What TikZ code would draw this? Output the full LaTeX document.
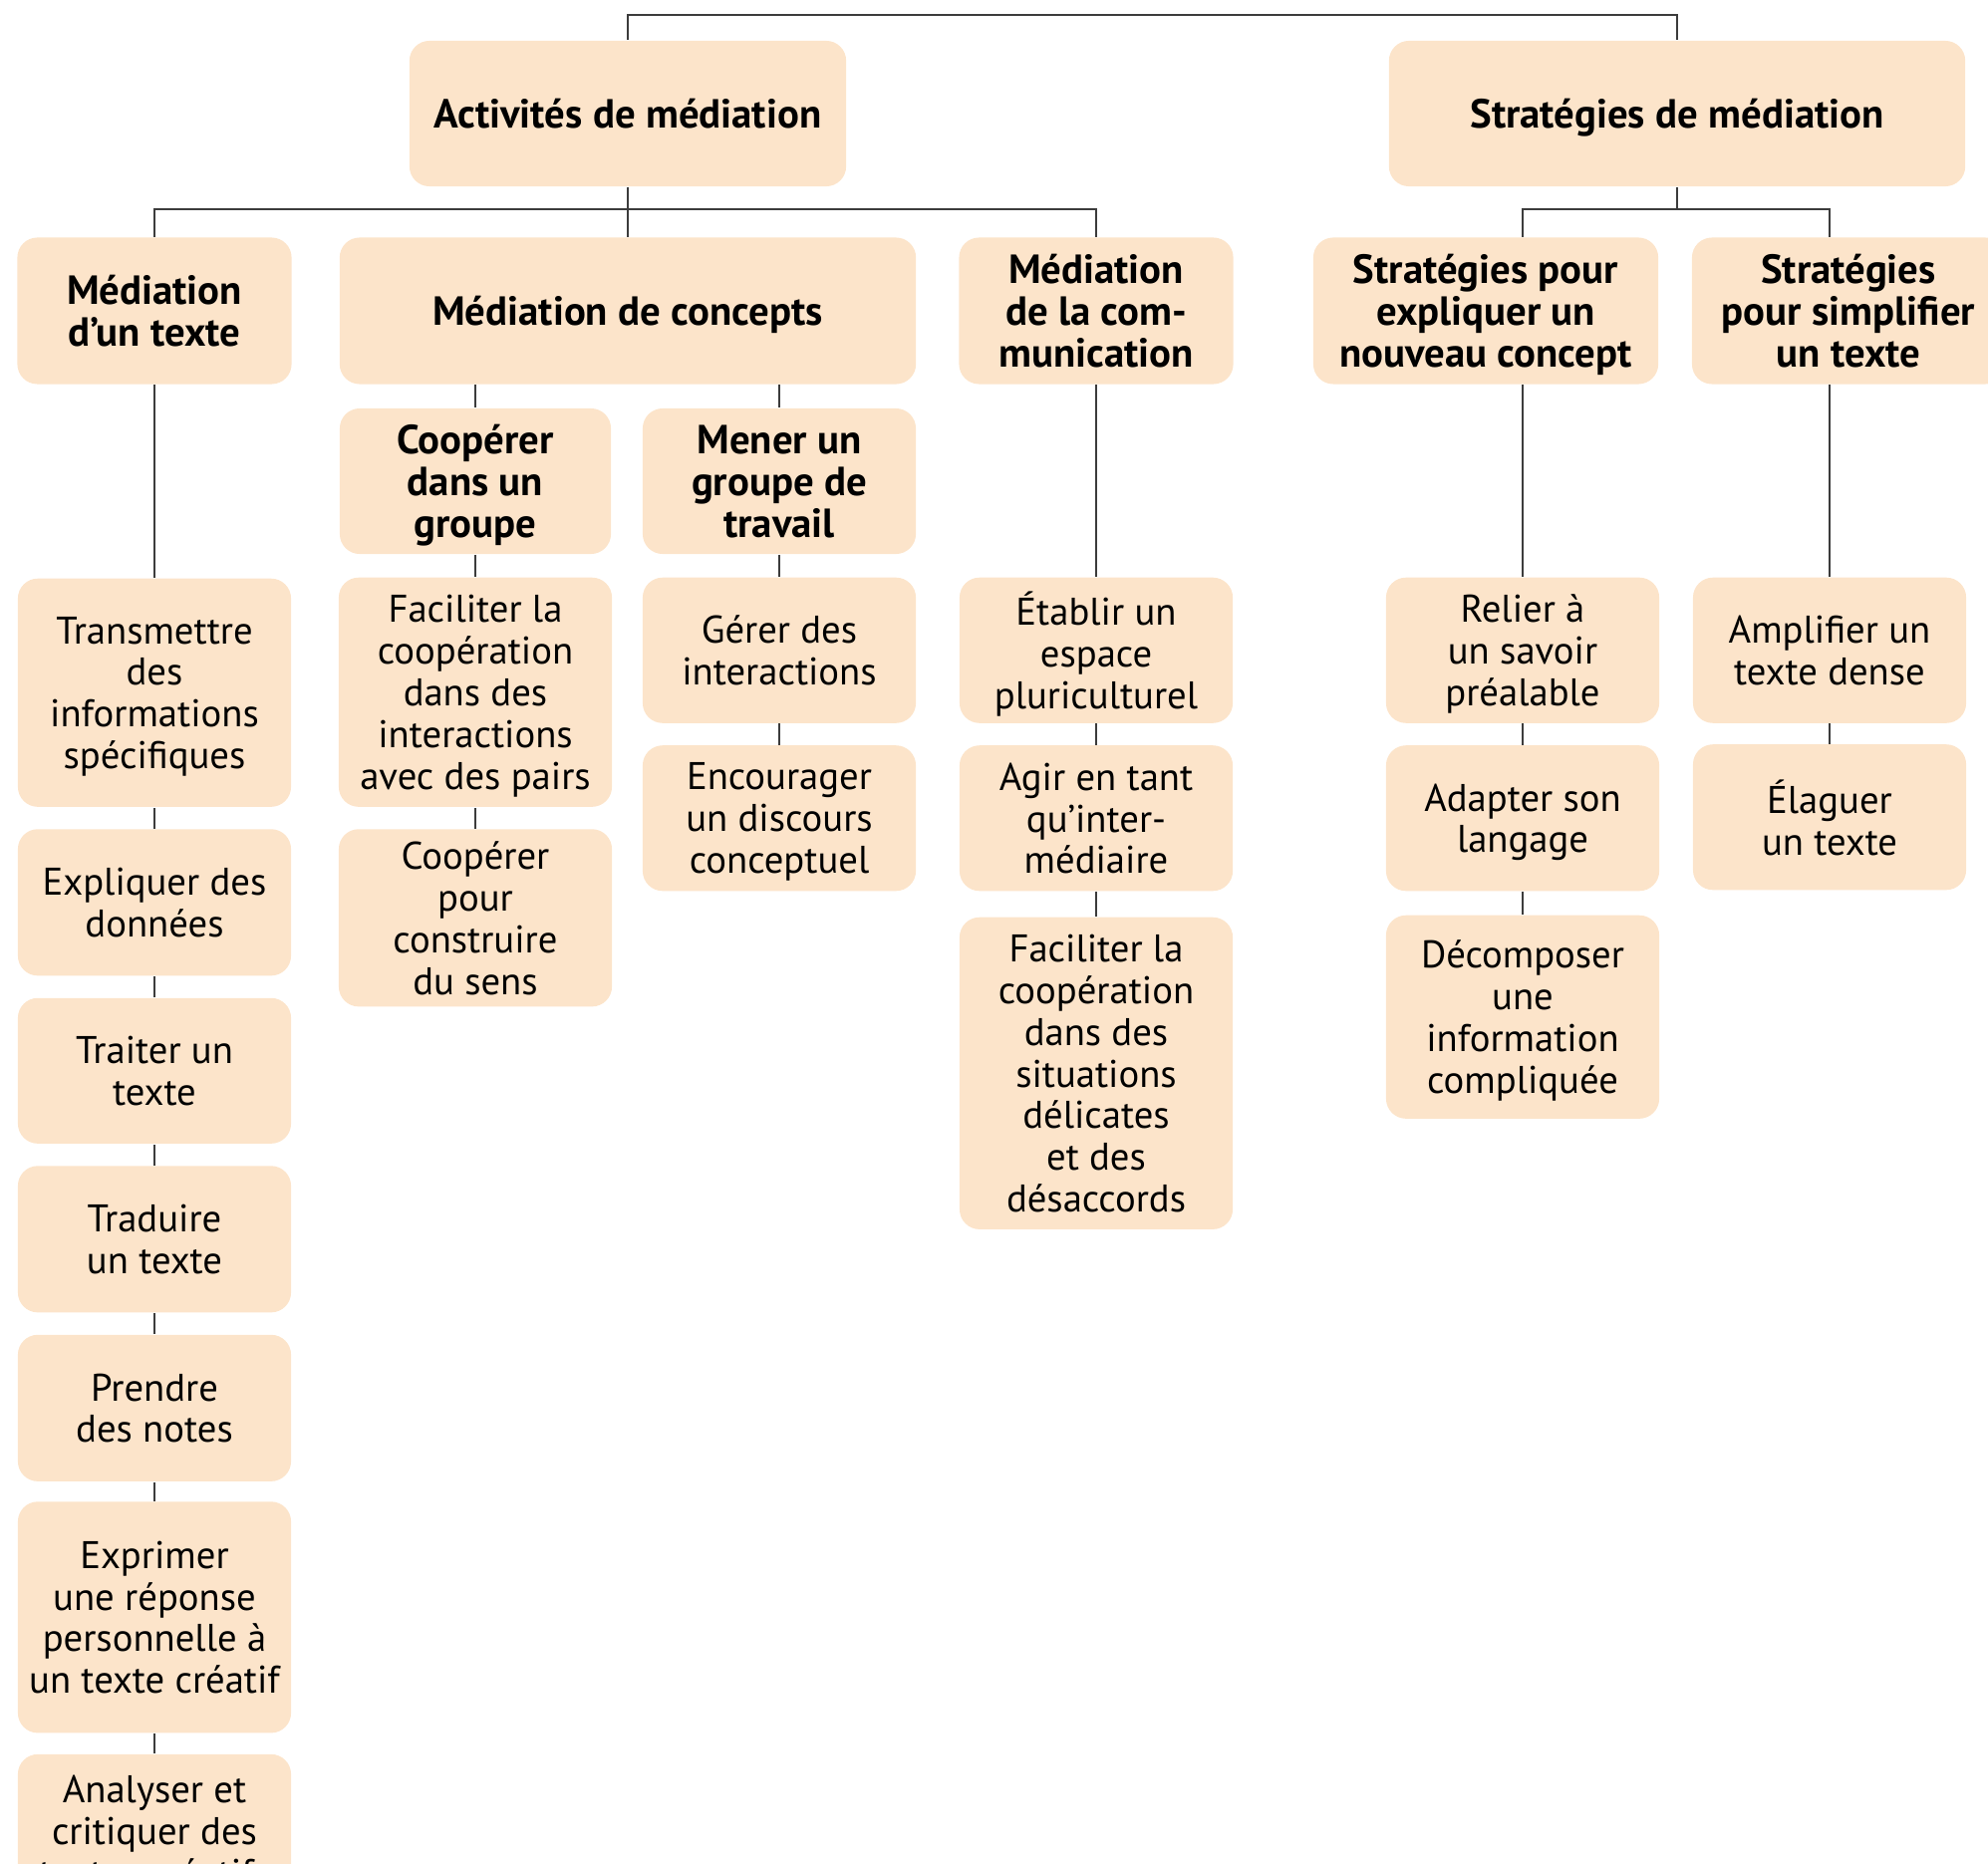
\documentclass[tikz,border=0pt]{standalone}
\usepackage{fontspec}
\setmainfont{PT Sans}
\usetikzlibrary{positioning}
\definecolor{peach}{RGB}{252,228,202}
\definecolor{linegray}{RGB}{60,60,60}

\begin{document}
\begin{tikzpicture}[x=0.01cm,y=-0.01cm,node distance=0.21cm,font=\fontsize{11}{11.9}\selectfont]
	\tikzstyle{box}=[rectangle, rounded corners=0.2cm, fill=peach, align=center, inner sep=1pt, text depth=0pt]
	\tikzstyle{head}=[box, font=\fontsize{11.6}{11.9}\selectfont\bfseries]
	\tikzstyle{leaf}=[box, minimum width=2.74cm]
	\tikzstyle{link}=[draw=linegray, line width=0.8pt]

	\path [use as bounding box] (0,0) rectangle (1995,1870);
	\clip (0,0) rectangle (1995,1870);

	% top level
	\node [head, minimum width=4.38cm, minimum height=1.46cm, text height=1.7ex] (act) at (630,114) {Activités de médiation};
	\node [head, minimum width=5.78cm, minimum height=1.46cm, text height=1.7ex] (strat) at (1683,114) {Stratégies de médiation};

	% second level
	\node [head, minimum width=2.75cm, minimum height=1.47cm] (medt) at (155,312) {Médiation\\d’un texte};
	\node [head, minimum width=5.78cm, minimum height=1.47cm, text height=1.7ex] (medc) at (630,312) {Médiation de concepts};
	\node [head, minimum width=2.75cm, minimum height=1.47cm] (medcom) at (1100,312) {Médiation\\de la com-\\munication};
	\node [head, minimum width=3.46cm, minimum height=1.47cm] (strexp) at (1491,312) {Stratégies pour\\expliquer un\\nouveau concept};
	\node [head, minimum width=3.14cm, minimum height=1.47cm] (strsim) at (1855,312) {Stratégies\\pour simplifier\\un texte};

	% third level
	\node [head, minimum width=2.72cm, minimum height=1.46cm] (coop) at (477,483) {Coopérer\\dans un\\groupe};
	\node [head, minimum width=2.74cm, minimum height=1.46cm] (mener) at (782,483) {Mener un\\groupe de\\travail};

	% mediation d'un texte
	\node [leaf, minimum height=2.29cm, anchor=north] (t1) at (155,580) {Transmettre\\des\\informations\\spécifiques};
	\node [leaf, minimum height=1.47cm] (t2) [below=of t1] {Expliquer des\\données}
	edge [link] (t1);
	\node [leaf, minimum height=1.46cm] (t3) [below=of t2] {Traiter un\\texte}
	edge [link] (t2);
	\node [leaf, minimum height=1.47cm] (t4) [below=of t3] {Traduire\\un texte}
	edge [link] (t3);
	\node [leaf, minimum height=1.47cm] (t5) [below=of t4] {Prendre\\des notes}
	edge [link] (t4);
	\node [leaf, minimum height=2.32cm] (t6) [below=0.19cm of t5] {Exprimer\\une réponse\\personnelle à\\un texte créatif}
	edge [link] (t5);
	\node [leaf, inner ysep=0.21cm] (t7) [below=0.2cm of t6] {Analyser et\\critiquer des\\textes créatifs}
	edge [link] (t6);

	% cooperer / mener
	\node [leaf, minimum height=2.30cm, anchor=north] (c1) at (477,579) {Faciliter la\\coopération\\dans des\\interactions\\avec des pairs};
	\node [leaf, minimum height=1.78cm] (c2) [below=of c1] {Coopérer\\pour\\construire\\du sens}
	edge [link] (c1);
	\node [leaf, minimum height=1.46cm, anchor=north] (m1) at (782,579) {Gérer des\\interactions};
	\node [leaf, minimum height=1.46cm] (m2) [below=of m1] {Encourager\\un discours\\conceptuel}
	edge [link] (m1);

	% mediation de la communication
	\node [leaf, minimum height=1.46cm, anchor=north] (k1) at (1100,579) {Établir un\\espace\\pluriculturel};
	\node [leaf, minimum height=1.46cm] (k2) [below=of k1] {Agir en tant\\qu’inter-\\médiaire}
	edge [link] (k1);
	\node [leaf, minimum height=3.13cm] (k3) [below=0.25cm of k2] {Faciliter la\\coopération\\dans des\\situations\\délicates\\et des\\désaccords}
	edge [link] (k2);

	% strategies
	\node [leaf, minimum height=1.46cm, anchor=north] (r1) at (1528,579) {Relier à\\un savoir\\préalable};
	\node [leaf, minimum height=1.46cm] (r2) [below=of r1] {Adapter son\\langage}
	edge [link] (r1);
	\node [leaf, minimum height=2.04cm] (r3) [below=0.23cm of r2] {Décomposer\\une\\information\\compliquée}
	edge [link] (r2);
	\node [leaf, minimum height=1.46cm, anchor=north] (a1) at (1836,579) {Amplifier un\\texte dense};
	\node [leaf, minimum height=1.46cm] (a2) [below=0.2cm of a1] {Élaguer\\un texte}
	edge [link] (a1);

	% connectors
	\coordinate (top) at (1154,15);
	\coordinate (bar1) at (630,210);
	\coordinate (bar2) at (1683,210);
	\draw [link] (act.north) |- (top) -| (strat.north);
	\draw [link] (act.south) -- (bar1);
	\draw [link] (medt.north) |- (bar1) -| (medcom.north);
	\draw [link] (medc.north) -- (bar1);
	\draw [link] (strat.south) -- (bar2);
	\draw [link] (strexp.north -| r1) |- (bar2) -| (strsim.north -| a1);
	\draw [link] (medc.south -| coop) -- (coop);
	\draw [link] (medc.south -| mener) -- (mener);
	\draw [link] (medt) -- (t1);
	\draw [link] (coop) -- (c1);
	\draw [link] (mener) -- (m1);
	\draw [link] (medcom) -- (k1);
	\draw [link] (strexp.south -| r1) -- (r1);
	\draw [link] (strsim.south -| a1) -- (a1);
\end{tikzpicture}
\end{document}
